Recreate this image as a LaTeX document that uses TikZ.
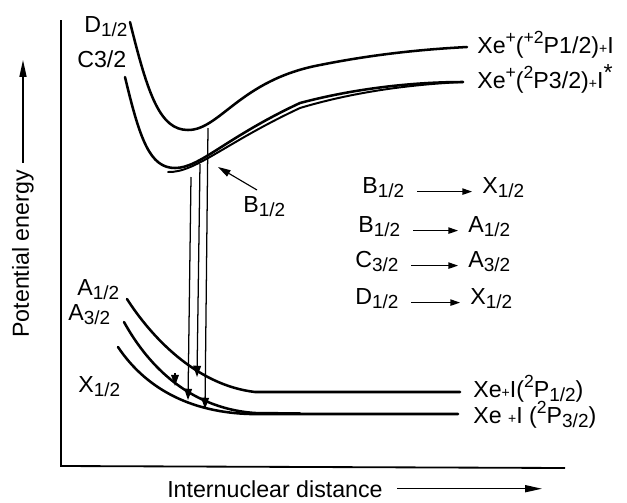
\documentclass[tikz,border=0pt]{standalone}
\usepackage{fontspec}
\setmainfont{Liberation Sans}
\usetikzlibrary{arrows.meta}
\newcommand{\lo}[1]{\raisebox{-0.4ex}{\fontsize{13.5}{13.5}\selectfont #1}}
\newcommand{\hi}[1]{\raisebox{0.75ex}{\fontsize{12.5}{12.5}\selectfont #1}}
\newcommand{\pl}{{\fontsize{10}{10}\selectfont+}}

\begin{document}
\begin{tikzpicture}[x=0.025cm,y=-0.025cm,
  lbl/.style={font=\fontsize{16.5}{18}\selectfont,inner sep=0pt,anchor=base west},
  pot/.style={line width=1.8pt,line cap=round},
  axis/.style={line width=1.3pt},
  axarrow/.style={line width=1pt,-{Triangle[length=12pt,width=5pt]}},
  trans/.style={line width=0.9pt,-{Triangle[length=8pt,width=5.5pt]}},
  lst/.style={line width=1pt,-{Triangle[length=7pt,width=4.5pt]}},
  pointer/.style={line width=0.8pt,-{Triangle[length=9pt,width=5pt]}}]
  \useasboundingbox (0,0) rectangle (627,502);
  % axes
  \coordinate (top) at (61,20);
  \coordinate (o) at (61,466);
  \coordinate (far) at (565,468);
  \draw[axis] (top) -- (o) -- (far);
  \coordinate (ytip) at (23,60);
  \coordinate (xtip) at (542,491);
  \node[lbl,rotate=90] (enlab) at (29,338) {Potential energy};
  \node[lbl] (rlab) at (167,497) {Internuclear distance};
  \draw[axarrow,shorten <=5pt] (enlab.east) -- (enlab.east |- ytip);
  \draw[axarrow,shorten <=10pt] (rlab.east) -- (rlab.east -| xtip);
  % upper (ionic) curves
  \draw[pot] (130,22) .. controls (148,95) and (160,130) .. (188,130)
    .. controls (220,130) and (240,80) .. (320,65)
    .. controls (380,53) and (430,49) .. (467,47);
  \draw[pot] (125,77) .. controls (140,140) and (150,168) .. (175,168)
    .. controls (200,168) and (225,138) .. (300,103)
    .. controls (360,87) and (420,82) .. (463,82);
  \draw[pot,line width=1.4pt] (168,172) .. controls (195,173) and (225,143) .. (300,108)
    .. controls (360,90) and (420,84) .. (463,82);
  % lower (covalent) curves
  \draw[pot] (127,299) .. controls (150,335) and (195,385) .. (255,392) -- (460,392);
  \draw[pot] (124,322) .. controls (145,360) and (185,408) .. (255,413) -- (300,413.5);
  \draw[pot] (118,347) .. controls (140,380) and (180,412) .. (250,414) -- (458,414);
  % curve labels
  \node[lbl] (dlab) at (84,32) {D\lo{1/2}};
  \node[lbl] (clab) at (77,67) {C3/2};
  \node[lbl] (blab) at (243,212) {B\lo{1/2}};
  \node[lbl] (a1lab) at (77,295) {A\lo{1/2}};
  \node[lbl] (a3lab) at (68,320) {A\lo{3/2}};
  \node[lbl] (xxlab) at (78,392) {X\lo{1/2}};
  \node[lbl] (ion1) at (477,53) {Xe\hi{+}(\hi{+2}P1/2)\pl I};
  \node[lbl] (ion2) at (477,88) {Xe\hi{+}(\hi{2}P3/2)\pl I\raisebox{0.6ex}{*}};
  \node[lbl] (neu1) at (473,397) {Xe\pl I(\hi{2}P\lo{1/2})};
  \node[lbl] (neu2) at (473,423) {Xe \pl I (\hi{2}P\lo{3/2})};
  % pointer to B
  \coordinate (bptr) at (257,190);
  \coordinate (bcurve) at (218,167);
  \draw[pointer] (bptr) -- (bcurve);
  % transitions
  \coordinate (tDa) at (208,128); \coordinate (tDb) at (205,409);
  \coordinate (tBa) at (200,164); \coordinate (tBb) at (197,377);
  \coordinate (tXa) at (191,177); \coordinate (tXb) at (188,400);
  \coordinate (tCa) at (175,373); \coordinate (tCb) at (175,386);
  \draw[trans] (tDa) -- (tDb);
  \draw[trans] (tBa) -- (tBb);
  \draw[trans] (tXa) -- (tXb);
  \draw[trans] (tCa) -- (tCb);
  % list of transitions
  \foreach \i/\y/\xl/\tl/\xr/\tr in {1/193/362/{B\lo{1/2}}/482/{X\lo{1/2}},
      2/232/358/{B\lo{1/2}}/468/{A\lo{1/2}},
      3/267/355/{C\lo{3/2}}/468/{A\lo{3/2}},
      4/304/355/{D\lo{1/2}}/470/{X\lo{1/2}}} {
    \node[lbl] (l\i) at (\xl,\y) {\tl};
    \node[lbl] (r\i) at (\xr,\y) {\tr};
    \draw[lst,shorten <=9pt,shorten >=7pt] ([yshift=1pt]l\i.base east) -- ([yshift=1pt]r\i.base west);
  }
\end{tikzpicture}
\end{document}
